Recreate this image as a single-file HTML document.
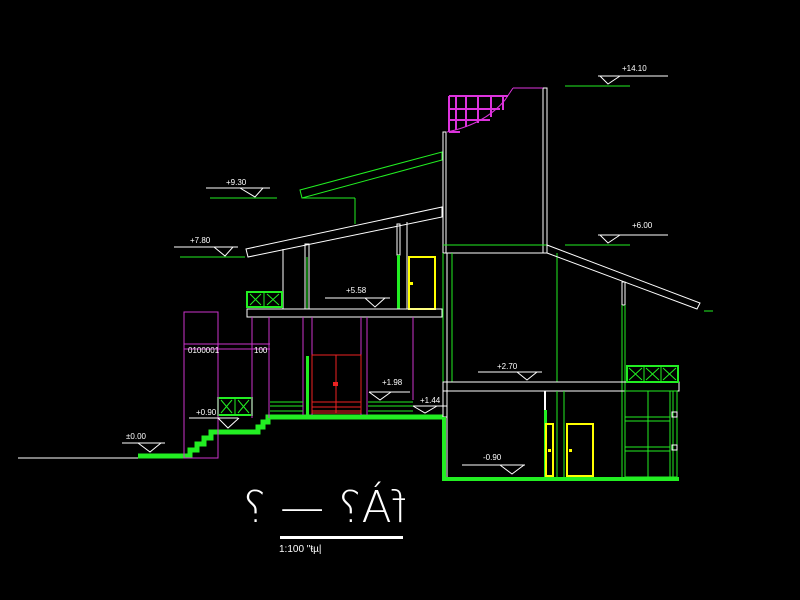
<!DOCTYPE html>
<html><head><meta charset="utf-8"><style>
html,body{margin:0;padding:0;background:#000;}
svg{display:block}
text{font-family:"Liberation Sans",sans-serif;fill:#fff;}
</style></head><body>
<svg width="800" height="600" viewBox="0 0 800 600" xmlns="http://www.w3.org/2000/svg">
<rect width="800" height="600" fill="#000"/>
<g fill="none" stroke-width="1">
<!-- ground -->
<line x1="18" y1="458" x2="138" y2="458" stroke="#fff"/>
<polyline points="138,456 190,456 190,450 197,450 197,444 204,444 204,438 211,438 211,432 258,432 258,427 263,427 263,422 268,422 268,417 443,417" stroke="#22ee22" stroke-width="5" stroke-linejoin="miter"/>
<!-- upper green roof -->
<polygon points="300,190 442,152 442,160 302,198" stroke="#22ee22"/>
<line x1="302" y1="198" x2="355" y2="198" stroke="#22ee22"/>
<line x1="355" y1="198" x2="355" y2="224" stroke="#22ee22"/>
<!-- left roof -->
<polygon points="246,249 442,207 442,217 248,257" stroke="#fff"/>
<line x1="283" y1="249" x2="283" y2="309" stroke="#fff"/>
<rect x="305" y="244" width="4" height="65" stroke="#fff"/>
<line x1="307" y1="257" x2="307" y2="309" stroke="#22ee22"/>
<rect x="397" y="224" width="3" height="31" stroke="#fff"/>
<rect x="397" y="255" width="3" height="54" fill="#22ee22" stroke="none"/>
<line x1="407" y1="222" x2="407" y2="309" stroke="#fff"/>
<rect x="409" y="257" width="26" height="52" stroke="#ffff00" stroke-width="2"/>
<rect x="410" y="282" width="3" height="3" fill="#ffff00" stroke="none"/>
<!-- railing boxes -->
<g stroke="#22ee22">
<rect x="247" y="292" width="35" height="15" stroke-width="2"/>
<line x1="264" y1="292" x2="264" y2="307"/>
<path d="M250 294 L261 305 M261 294 L250 305 M267 294 L279 305 M279 294 L267 305"/>
<rect x="218" y="398" width="34" height="17" stroke-width="2"/>
<line x1="235" y1="398" x2="235" y2="415"/>
<path d="M221 400 L232 413 M232 400 L221 413 M238 400 L249 413 M249 400 L238 413"/>
</g>
<!-- slab -->
<rect x="247" y="309" width="195" height="8" stroke="#fff"/>
<!-- magenta -->
<g stroke="#cc33cc">
<rect x="184" y="312" width="34" height="146"/>
<line x1="184" y1="344" x2="270" y2="344"/>
<line x1="184" y1="349" x2="270" y2="349"/>
<line x1="252" y1="317" x2="252" y2="418"/>
<line x1="269" y1="317" x2="269" y2="418"/>
<line x1="303" y1="317" x2="303" y2="415"/>
<line x1="312" y1="317" x2="312" y2="415"/>
<line x1="361" y1="317" x2="361" y2="415"/>
<line x1="367" y1="317" x2="367" y2="415"/>
<line x1="413" y1="317" x2="413" y2="400"/>
</g>
<text x="188" y="353" font-size="8" stroke="none">0100001</text>
<text x="254" y="353" font-size="8" stroke="none">100</text>
<!-- red door -->
<g stroke="#ee2222">
<rect x="312" y="355" width="49" height="58"/>
<line x1="336" y1="355" x2="336" y2="413"/>
<line x1="312" y1="402" x2="361" y2="402"/>
<line x1="312" y1="407" x2="361" y2="407"/>
<line x1="312" y1="411" x2="361" y2="411"/>
</g>
<rect x="333" y="382" width="5" height="4" fill="#ee2222" stroke="none"/>
<rect x="306" y="356" width="3" height="59" fill="#22ee22" stroke="none"/>
<g stroke="#22ee22">
<path d="M270 402 H303 M270 406 H303 M270 411 H303 M368 402 H413 M368 406 H413 M368 411 H413"/>
</g>
<!-- tower -->
<rect x="443" y="132" width="3" height="121" stroke="#fff"/>
<rect x="543" y="88" width="4" height="165" stroke="#fff"/>
<line x1="443" y1="253" x2="547" y2="253" stroke="#fff"/>
<line x1="443" y1="245" x2="547" y2="245" stroke="#22ee22"/>
<g stroke="#dd33dd" stroke-width="2">
<path d="M449 96 V132 M456 96 V130 M466 96 V127 M478 96 V123 M491 96 V117 M503 96 V110"/>
<path d="M449 96 H508 M449 109 H500 M449 120 H490 M449 132 H460"/>
</g>
<path d="M513 88 L543 88 M513 88 L505 100 Q485 124 447 132" stroke="#dd33dd"/>
<!-- tower lower wall -->
<rect x="443" y="253" width="4" height="164" stroke="#fff"/>
<line x1="443" y1="253" x2="443" y2="382" stroke="#22ee22"/>
<line x1="452" y1="253" x2="452" y2="382" stroke="#22ee22"/>
<line x1="557" y1="253" x2="557" y2="382" stroke="#22ee22"/>
<!-- right roof -->
<polygon points="547,245 700,303 697,309 547,253" stroke="#fff"/>
<rect x="622" y="282" width="3" height="23" stroke="#fff"/>
<line x1="622" y1="305" x2="622" y2="480" stroke="#22ee22"/>
<line x1="625" y1="305" x2="625" y2="480" stroke="#22ee22"/>
<line x1="704" y1="311" x2="713" y2="311" stroke="#22ee22"/>
<!-- right slab -->
<rect x="443" y="382" width="236" height="9" stroke="#fff"/>
<g stroke="#22ee22">
<rect x="627" y="366" width="51" height="16" stroke-width="2"/>
<line x1="644" y1="366" x2="644" y2="382"/><line x1="661" y1="366" x2="661" y2="382"/>
<path d="M629 368 L642 380 M642 368 L629 380 M646 368 L659 380 M659 368 L646 380 M663 368 L676 380 M676 368 L663 380"/>
</g>
<!-- lower room -->
<polyline points="545,391 447,391 447,477" stroke="#fff"/>
<line x1="545" y1="391" x2="545" y2="410" stroke="#fff" stroke-width="2"/>
<rect x="544" y="410" width="3" height="67" fill="#22ee22" stroke="none"/>
<rect x="546" y="424" width="7" height="52" stroke="#ffff00" stroke-width="2"/>
<rect x="567" y="424" width="26" height="52" stroke="#ffff00" stroke-width="2"/>
<rect x="569" y="449" width="3" height="3" fill="#ffff00" stroke="none"/>
<rect x="548" y="449" width="3" height="3" fill="#ffff00" stroke="none"/>
<line x1="557" y1="391" x2="557" y2="477" stroke="#22ee22"/>
<line x1="564" y1="391" x2="564" y2="477" stroke="#22ee22"/>
<g stroke="#22ee22">
<rect x="625" y="391" width="52" height="86"/>
<path d="M648 391 V477 M670 391 V477 M625 417 H670 M625 421 H670 M625 447 H670 M625 451 H670 M673 391 V477"/>
</g>
<rect x="672" y="412" width="5" height="5" stroke="#fff"/>
<rect x="672" y="445" width="5" height="5" stroke="#fff"/>
<polyline points="444,417 444,479 679,479" stroke="#22ee22" stroke-width="4"/>
</g>
<!-- level marks -->
<g stroke-width="1" fill="none">
<g stroke="#fff">
<path d="M206 188 H270 M240 188 L255 197 L263 188"/><path d="M174 247 H238 M214 247 L225 256 L233 247"/>
<path d="M325 298 H390 M365 298 L375 307 L385 298"/>
<path d="M598 76 H668 M600 76 L608 84 L620 76"/><path d="M598 235 H668 M600 235 L608 243 L620 235"/>
<path d="M478 372 H542 M517 372 L527 380 L537 372"/>
<path d="M369 392 H410 M369 392 L380 400 L391 392"/>
<path d="M413 406 H447 M413 406 L425 413 L437 406"/>
<path d="M189 418 H238 M218 418 L228 428 L239 418"/>
<path d="M122 443 H165 M138 443 L150 452 L161 443"/>
<path d="M462 465 H525 M500 465 L512 474 L524 465"/>
</g>
<g stroke="#22ee22">
<path d="M210 198 H277 M180 257 H245 M565 86 H630 M565 245 H630"/>
</g>
</g>
<g font-size="8">
<text x="226" y="185">+9.30</text><text x="190" y="243">+7.80</text>
<text x="346" y="293">+5.58</text><text x="622" y="71">+14.10</text>
<text x="632" y="228">+6.00</text><text x="497" y="369">+2.70</text>
<text x="382" y="385">+1.98</text><text x="420" y="403">+1.44</text>
<text x="196" y="415">+0.90</text><text x="126" y="439">±0.00</text>
<text x="483" y="460">-0.90</text>
</g>
<!-- title -->
<g transform="translate(660,0) scale(-1,1)">
<text x="253" y="522" font-size="44" font-weight="100" style="font-family:'DejaVu Sans',sans-serif">fÀ? — ?</text>
</g>
<rect x="280" y="536" width="123" height="3" fill="#fff"/>
<text x="279" y="552" font-size="10">1:100 "ŧµ|</text>
</svg>
</body></html>
